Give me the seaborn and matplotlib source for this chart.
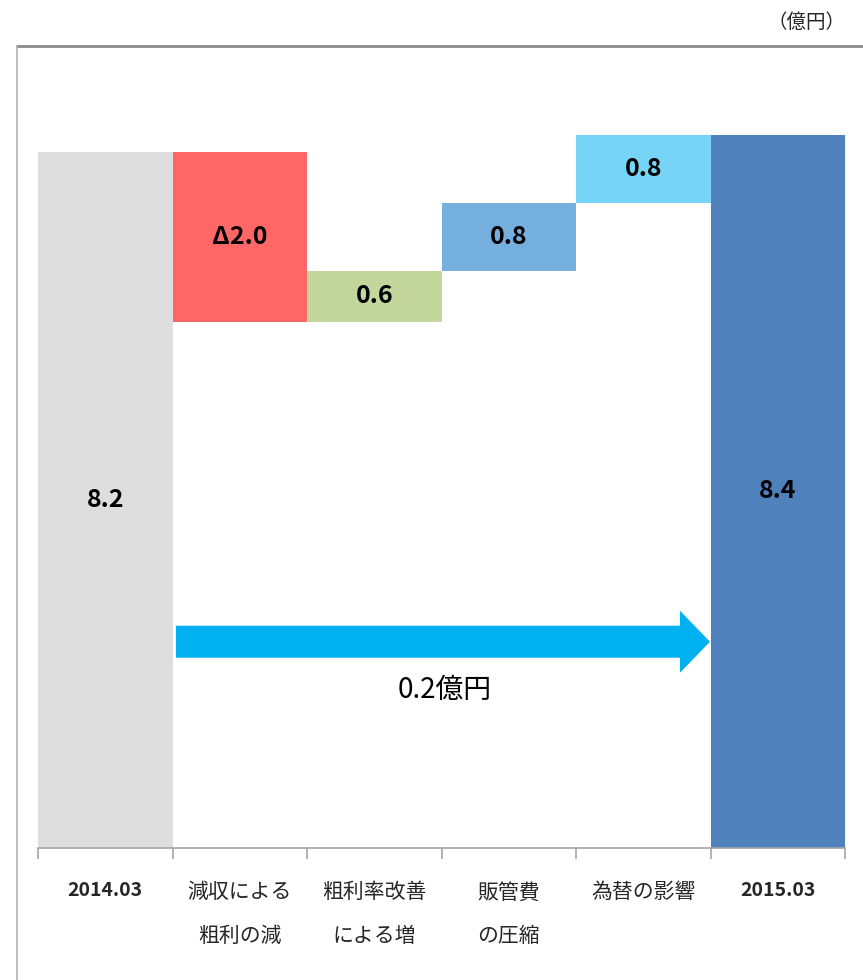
import matplotlib
matplotlib.use("Agg")
import matplotlib.pyplot as plt
import seaborn as sns
import numpy as np

# waterfall data (億円)
categories = ["2014.03", "減収による\n粗利の減", "粗利率改善\nによる増", "販管費\nの圧縮", "為替の影響", "2015.03"]
changes = [8.2, -2.0, 0.6, 0.8, 0.8, 8.4]
value_labels = ["8.2", "Δ2.0", "0.6", "0.8", "0.8", "8.4"]
bar_colors = ["#DEDEDE", "#FF6666", "#C3D69B", "#74AFDE", "#76D4F7", "#4F81BD"]
total_diff_label = "0.2億円"
unit_label = "（億円）"

# tops / bottoms of each floating bar
tops, bottoms = [], []
level = 0.0
for i, v in enumerate(changes):
    if i == 0 or i == len(changes) - 1:
        tops.append(v)
        bottoms.append(0.0)
        level = v
    else:
        new = level + v
        tops.append(max(level, new))
        bottoms.append(min(level, new))
        level = new

sns.set_style("white")
num_font = ["Liberation Sans Narrow", "Noto Sans CJK JP", "DejaVu Sans"]
jp_font = ["Noto Sans CJK JP", "DejaVu Sans"]
plt.rcParams["font.family"] = jp_font

fig = plt.figure(figsize=(8.63, 9.8), dpi=100)
ax = fig.add_axes([38 / 863, 132 / 980, 807 / 863, 764 / 980])

sns.barplot(x=categories, y=tops, hue=categories, palette=bar_colors, width=1.0,
            saturation=1, legend=False, linewidth=0, ax=ax)
sns.barplot(x=categories, y=bottoms, color="white", width=1.0, saturation=1,
            linewidth=0, ax=ax)

ax.set_xlim(-0.5, len(categories) - 0.5)
ax.set_ylim(0, 9.0)
ax.set_yticks([])
for s in ["top", "right", "left"]:
    ax.spines[s].set_visible(False)
ax.spines["bottom"].set_color("#A6A6A6")
ax.spines["bottom"].set_linewidth(1.2)

# labels in centre, ticks at category boundaries
ax.set_xticks(range(len(categories)))
ax.set_xticklabels(categories)
ax.tick_params(axis="x", which="major", length=0, pad=24)
ax.set_xticks(np.arange(-0.5, len(categories)), minor=True)
ax.tick_params(axis="x", which="minor", length=8, color="#A6A6A6", width=1.2,
               direction="out", bottom=True)
for lab in ax.get_xticklabels():
    txt = lab.get_text()
    lab.set_linespacing(2.3)
    if txt.startswith("20"):
        lab.set_family(num_font)
        lab.set_fontweight("bold")
        lab.set_fontsize(14)
    else:
        lab.set_family(jp_font)
        lab.set_fontsize(15)

# value labels in the middle of each bar
for i, (t, b, lbl) in enumerate(zip(tops, bottoms, value_labels)):
    ax.text(i, (t + b) / 2, lbl, ha="center", va="center", fontsize=18,
            family=num_font, fontweight="bold", color="black", zorder=5)

# arrow showing total change
ax.arrow(0.526, 2.43, 4.496 - 0.526, 0, width=0.377, head_width=0.73,
         head_length=0.223, length_includes_head=True, color="#00B0F0",
         linewidth=0, zorder=6)
ax.text(2.526, 1.86, total_diff_label, ha="center", va="center", fontsize=20,
        family=jp_font, color="black")

# outer frame and unit
fig.add_artist(plt.Line2D([17 / 863, 1.0], [1 - 46 / 980, 1 - 46 / 980],
                          color="#8C8C8C", linewidth=2, transform=fig.transFigure))
fig.add_artist(plt.Line2D([17 / 863, 17 / 863], [0, 1 - 46 / 980],
                          color="#B0B0B0", linewidth=1.2, transform=fig.transFigure))
fig.text(845 / 863, 1 - 22 / 980, unit_label, ha="right", va="center", fontsize=14,
         family=jp_font)

fig.savefig("out.png", dpi=100)
